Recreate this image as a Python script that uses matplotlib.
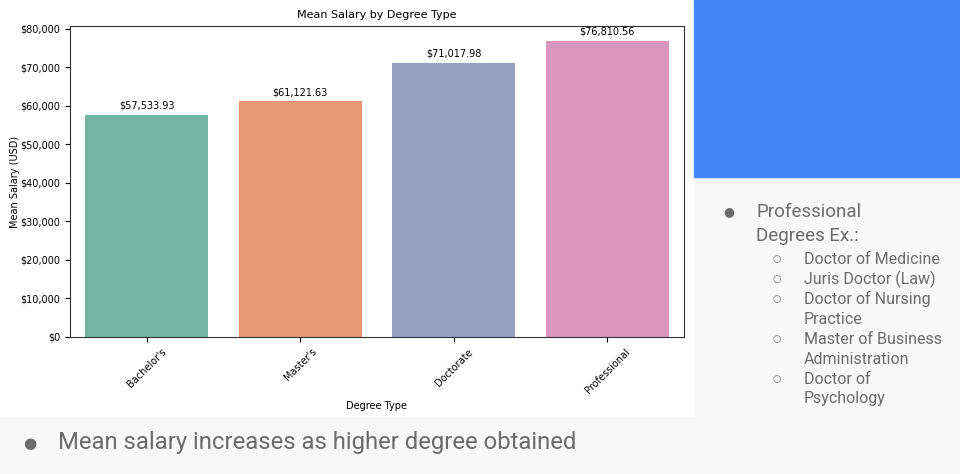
import matplotlib.pyplot as plt
import seaborn as sns
from matplotlib.patches import Rectangle
from matplotlib.ticker import FuncFormatter

# -----------------------------------
# DATA
# -----------------------------------

degrees = ["Bachelor's", "Master's", "Doctorate", "Professional"]
mean_salary = [57533.93, 61121.63, 71017.98, 76810.56]

examples_title = ["Professional", "Degrees Ex.:"]
examples = [
    ["Doctor of Medicine"],
    ["Juris Doctor (Law)"],
    ["Doctor of Nursing", "Practice"],
    ["Master of Business", "Administration"],
    ["Doctor of", "Psychology"],
]
takeaway = "Mean salary increases as higher degree obtained"

# -----------------------------------
# SLIDE BACKGROUND
# -----------------------------------

W, H = 960, 474
fig = plt.figure(figsize=(W / 100, H / 100), dpi=100, facecolor="#f8f8f8")

def fx(px):
    return px / W

def fy(py):
    return 1 - py / H

# white chart image area
fig.patches.append(Rectangle((0, fy(416)), fx(694), 416 / H,
                             transform=fig.transFigure, color="white", zorder=-2))
# blue block top right
fig.patches.append(Rectangle((fx(694), fy(177)), fx(W - 694), 177 / H,
                             transform=fig.transFigure, color="#4285f4", zorder=-2))

# -----------------------------------
# CHART — MEAN SALARY BY DEGREE
# -----------------------------------

ax = fig.add_axes([fx(70), fy(337), fx(684 - 70), (337 - 26) / H])
sns.barplot(x=degrees, y=mean_salary, hue=degrees, palette="Set2",
            legend=False, ax=ax)

for c in ax.containers:
    ax.bar_label(c, labels=[f"${v:,.2f}" for v in c.datavalues],
                 fontsize=7, padding=3)

ax.yaxis.set_major_formatter(FuncFormatter(lambda v, p: f"${v:,.0f}"))
ax.tick_params(axis="both", labelsize=7)
plt.setp(ax.get_xticklabels(), rotation=45)
for s in ax.spines.values():
    s.set_color("#333333")

ax.set_title("Mean Salary by Degree Type", fontsize=8)
ax.set_xlabel("Degree Type", fontsize=7)
ax.set_ylabel("Mean Salary (USD)", fontsize=7, labelpad=0)

# -----------------------------------
# SLIDE TEXT
# -----------------------------------

grey = "#6b6b6b"
font = "Roboto"

fig.text(fx(729), fy(212), "●", fontsize=9, color=grey, ha="center", va="center")
for i, line in enumerate(examples_title):
    fig.text(fx(756), fy(212 + 24 * i), line, fontsize=13.5, color=grey,
             family=font, va="center")

y = 259
for item in examples:
    fig.text(fx(777), fy(y), "○", fontsize=7, color=grey, ha="center", va="center")
    for line in item:
        fig.text(fx(804), fy(y), line, fontsize=11.5, color=grey,
                 family=font, va="center")
        y += 20

fig.text(fx(30), fy(443), "●", fontsize=11, color=grey, ha="center", va="center")
fig.text(fx(58), fy(443), takeaway, fontsize=17.2, color=grey,
         family=font, va="center")

plt.savefig("out.png", dpi=100, facecolor=fig.get_facecolor())
plt.close()
